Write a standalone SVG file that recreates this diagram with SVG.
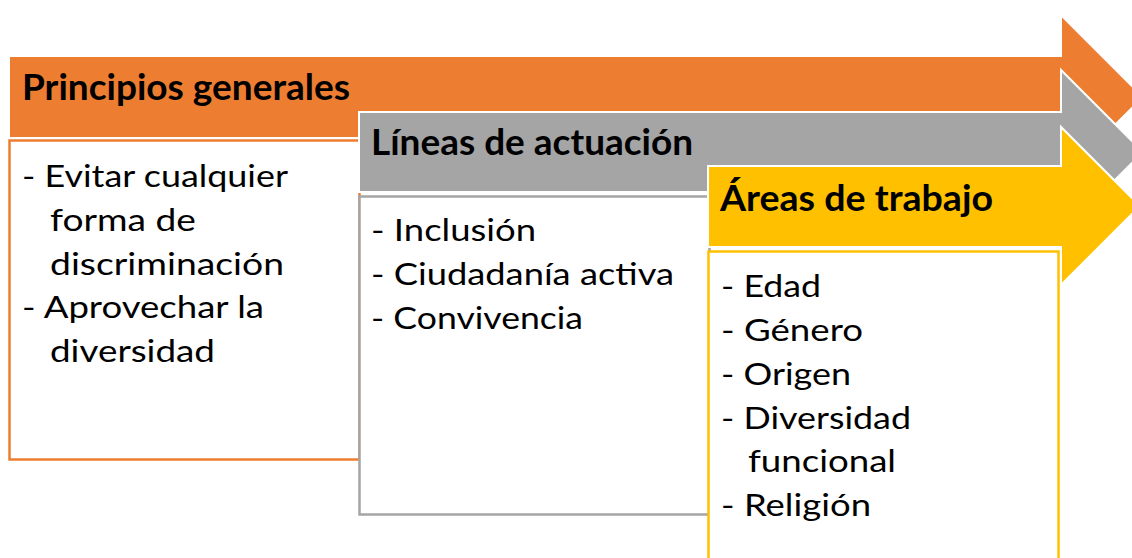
<svg xmlns="http://www.w3.org/2000/svg" width="1132" height="558" viewBox="0 0 1132 558">
<style>
.arrow{stroke:#ffffff;stroke-width:2;stroke-linejoin:miter}
.box{fill:#ffffff;stroke-width:2.5}
.hdr{font-family:Lato,"Liberation Sans",sans-serif;font-weight:bold;font-size:37px;fill:#000000}
.txt{font-family:Lato,"Liberation Sans",sans-serif;font-size:31px;fill:#000000}
</style>
<rect width="1132" height="558" fill="#ffffff"/>
<g id="principios">
  <path class="arrow" fill="#ED7D31" d="M9,56 H1061 V15 L1143,97 L1061,179 V138 H9 Z"/>
  <rect class="box" stroke="#ED7D31" x="9.5" y="140.5" width="350" height="319"/>
  <text class="hdr" x="22" y="100" textLength="328" lengthAdjust="spacingAndGlyphs">Principios generales</text>
  <text class="txt" x="22" y="187" textLength="266" lengthAdjust="spacingAndGlyphs">- Evitar cualquier</text>
  <text class="txt" x="50" y="231" textLength="146" lengthAdjust="spacingAndGlyphs">forma de</text>
  <text class="txt" x="50" y="274.5" textLength="234" lengthAdjust="spacingAndGlyphs">discriminación</text>
  <text class="txt" x="22" y="318" textLength="242" lengthAdjust="spacingAndGlyphs">- Aprovechar la</text>
  <text class="txt" x="50" y="362" textLength="165" lengthAdjust="spacingAndGlyphs">diversidad</text>
</g>
<g id="lineas">
  <path class="arrow" fill="#A5A5A5" d="M359,112 H1061 V70 L1143,152 L1061,234 V192 H359 Z"/>
  <rect class="box" stroke="#A5A5A5" x="359.5" y="196.5" width="350" height="318"/>
  <text class="hdr" x="371" y="155" textLength="322" lengthAdjust="spacingAndGlyphs">Líneas de actuación</text>
  <text class="txt" x="371" y="240.5" textLength="165" lengthAdjust="spacingAndGlyphs">- Inclusión</text>
  <text class="txt" x="371" y="284.5" textLength="303" lengthAdjust="spacingAndGlyphs">- Ciudadanía activa</text>
  <text class="txt" x="371" y="328.5" textLength="212" lengthAdjust="spacingAndGlyphs">- Convivencia</text>
</g>
<g id="areas">
  <path class="arrow" fill="#FFC000" d="M708,166 H1061 V127 L1140,206 L1061,285 V247 H708 Z"/>
  <rect class="box" stroke="#FFC000" x="708.5" y="251.5" width="350" height="320"/>
  <text class="hdr" x="720" y="211" textLength="273" lengthAdjust="spacingAndGlyphs">Áreas de trabajo</text>
  <text class="txt" x="721" y="296.5" textLength="100" lengthAdjust="spacingAndGlyphs">- Edad</text>
  <text class="txt" x="721" y="340.5" textLength="142" lengthAdjust="spacingAndGlyphs">- Género</text>
  <text class="txt" x="721" y="384.5" textLength="130" lengthAdjust="spacingAndGlyphs">- Origen</text>
  <text class="txt" x="721" y="428.5" textLength="190" lengthAdjust="spacingAndGlyphs">- Diversidad</text>
  <text class="txt" x="748" y="472" textLength="148" lengthAdjust="spacingAndGlyphs">funcional</text>
  <text class="txt" x="721" y="516" textLength="150" lengthAdjust="spacingAndGlyphs">- Religión</text>
</g>
<g id="connectors"></g>
</svg>
